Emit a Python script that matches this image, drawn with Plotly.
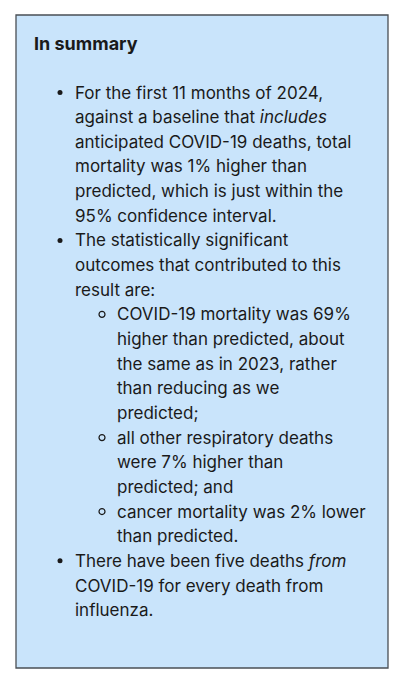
import plotly.graph_objects as go

TITLE = "In summary"

# each bullet: (level, lines of text)
BULLET_1 = [
    "For the first 11 months of 2024,",
    "against a baseline that <i>includes</i>",
    "anticipated COVID-19 deaths, total",
    "mortality was 1% higher than",
    "predicted, which is just within the",
    "95% confidence interval.",
]
BULLET_2 = [
    "The statistically significant",
    "outcomes that contributed to this",
    "result are:",
]
SUB_1 = [
    "COVID-19 mortality was 69%",
    "higher than predicted, about",
    "the same as in 2023, rather",
    "than reducing as we",
    "predicted;",
]
SUB_2 = [
    "all other respiratory deaths",
    "were 7% higher than",
    "predicted; and",
]
SUB_3 = [
    "cancer mortality was 2% lower",
    "than predicted.",
]
BULLET_3 = [
    "There have been five deaths <i>from</i>",
    "COVID-19 for every death from",
    "influenza.",
]
ITEMS = [(1, BULLET_1), (1, BULLET_2), (2, SUB_1), (2, SUB_2), (2, SUB_3), (1, BULLET_3)]

W, H = 404, 680
FONT = "Inter"
TXT = "#1a1a1a"
SIZE = 17
LINE_H = 24.65
FIRST_Y = 92.5
TEXT_X = {1: 72.5, 2: 114.5}
MARK_X = {1: 60, 2: 102}

fig = go.Figure()

fig.add_shape(type="rect", x0=16, y0=15, x1=388, y1=668,
              fillcolor="#c9e4fb", line=dict(color="#4a4f55", width=1.3), layer="below")

fig.add_annotation(x=31.5, y=43.5, text="<b>" + TITLE + "</b>", showarrow=False,
                   xanchor="left", yanchor="middle",
                   font=dict(family=FONT, size=18, color=TXT))

y = FIRST_Y
dots_x, dots_y, rings_x, rings_y = [], [], [], []
for level, lines in ITEMS:
    if level == 1:
        dots_x.append(MARK_X[1]); dots_y.append(y)
    else:
        rings_x.append(MARK_X[2]); rings_y.append(y)
    for line in lines:
        fig.add_annotation(x=TEXT_X[level], y=y, text=line, showarrow=False,
                           xanchor="left", yanchor="middle",
                           font=dict(family=FONT, size=SIZE, color=TXT))
        y += LINE_H

fig.add_trace(go.Scatter(x=dots_x, y=dots_y, mode="markers", hoverinfo="skip",
                         marker=dict(symbol="circle", size=5, color=TXT)))
fig.add_trace(go.Scatter(x=rings_x, y=rings_y, mode="markers", hoverinfo="skip",
                         marker=dict(symbol="circle-open", size=6, color=TXT,
                                     line=dict(width=1.2))))

fig.update_xaxes(range=[0, W], visible=False, fixedrange=True)
fig.update_yaxes(range=[H, 0], visible=False, fixedrange=True)
fig.update_layout(width=W, height=H, margin=dict(l=0, r=0, t=0, b=0),
                  paper_bgcolor="white", plot_bgcolor="white", showlegend=False)

fig.write_html("out.html", config={"displayModeBar": False},
               post_script="document.body.style.margin='0';")
